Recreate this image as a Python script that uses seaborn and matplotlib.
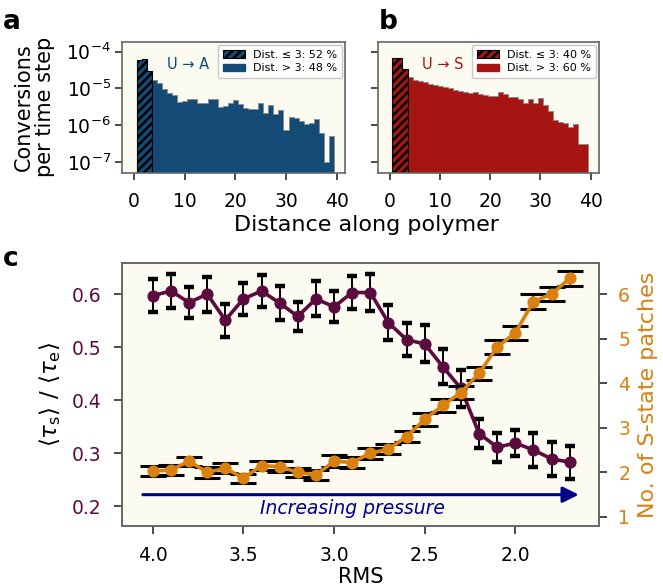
import numpy as np
import pandas as pd
import matplotlib
matplotlib.use("Agg")
import matplotlib.pyplot as plt
import seaborn as sns
from matplotlib.patches import Patch

# ── Panel a/b: conversion rates per distance along polymer ───────────────────
distance = list(range(1, 40))
rate_ua = [6.0e-5, 6.5e-5, 2.9e-5, 1.66e-5, 1.41e-5, 9.8e-6, 7.6e-6, 6.6e-6, 4.3e-6, 4.5e-6,
           5.2e-6, 5.2e-6, 4.1e-6, 3.9e-6, 5.0e-6, 5.0e-6, 3.1e-6, 3.3e-6, 4.1e-6, 4.8e-6,
           3.7e-6, 3.0e-6, 2.8e-6, 2.8e-6, 3.9e-6, 2.2e-6, 3.5e-6, 2.0e-6, 2.6e-6, 7.6e-7,
           1.7e-6, 1.6e-6, 1.3e-6, 1.07e-6, 1.17e-6, 1.45e-6, 6.0e-7, 1.0e-7, 5.2e-7]
rate_us = [6.8e-5, 6.8e-5, 3.4e-5, 2.0e-5, 1.66e-5, 1.62e-5, 1.51e-5, 1.35e-5, 1.26e-5, 1.17e-5,
           1.10e-5, 1.0e-5, 9.3e-6, 8.7e-6, 8.1e-6, 7.6e-6, 7.8e-6, 7.2e-6, 6.5e-6, 6.2e-6,
           6.2e-6, 7.8e-6, 7.1e-6, 5.9e-6, 5.9e-6, 5.0e-6, 4.1e-6, 5.0e-6, 3.9e-6, 5.4e-6,
           3.5e-6, 2.5e-6, 1.38e-6, 1.23e-6, 1.12e-6, 8.7e-7, 1.07e-6, 3.1e-7, 3.1e-7]
share_ua = ["52", "48"]
share_us = ["40", "60"]

# ── Panel c: lifetime ratio and patch count vs RMS ───────────────────────────
rms = [4.0, 3.9, 3.8, 3.7, 3.6, 3.5, 3.4, 3.3, 3.2, 3.1, 3.0, 2.9,
       2.8, 2.7, 2.6, 2.5, 2.4, 2.3, 2.2, 2.1, 2.0, 1.9, 1.8, 1.7]
tau_ratio = [0.597, 0.606, 0.584, 0.600, 0.551, 0.591, 0.606, 0.583, 0.558, 0.591, 0.576, 0.603,
             0.603, 0.546, 0.514, 0.506, 0.463, 0.422, 0.337, 0.311, 0.319, 0.306, 0.289, 0.283]
tau_err = [0.031, 0.032, 0.030, 0.033, 0.031, 0.030, 0.030, 0.032, 0.028, 0.033, 0.029, 0.032,
           0.035, 0.033, 0.031, 0.035, 0.033, 0.035, 0.028, 0.027, 0.025, 0.032, 0.032, 0.031]
n_patches = [2.03, 2.05, 2.25, 2.00, 2.09, 1.87, 2.15, 2.13, 2.00, 1.94, 2.25, 2.22,
             2.43, 2.52, 2.80, 3.19, 3.50, 3.79, 4.22, 4.81, 5.13, 5.83, 6.00, 6.35]
patches_err = [0.11, 0.12, 0.10, 0.12, 0.11, 0.10, 0.10, 0.13, 0.10, 0.11, 0.13, 0.12,
               0.12, 0.12, 0.13, 0.14, 0.14, 0.15, 0.14, 0.16, 0.15, 0.17, 0.16, 0.17]

# ── Style ─────────────────────────────────────────────────────────────────────
BLUE   = "#134a76"
RED    = "#a61512"
PURPLE = "#5c0b3e"
ORANGE = "#d9800f"
NAVY   = "#00008b"
BG     = "#fcfbf2"

sns.set_theme(style="ticks")
plt.rcParams.update({
    "font.family": ["DejaVu Sans"],
    "text.color": "black",
    "axes.labelcolor": "black",
    "xtick.color": "#333333",
    "ytick.color": "#333333",
    "xtick.labelcolor": "black",
    "ytick.labelcolor": "black",
    "axes.facecolor": BG,
    "axes.edgecolor": "#666666",
    "axes.linewidth": 1.2,
    "xtick.labelsize": 13.5,
    "ytick.labelsize": 13.5,
    "xtick.major.size": 5,
    "ytick.major.size": 5,
    "hatch.linewidth": 1.8,
    "mathtext.fontset": "dejavusans",
})

fig = plt.figure(figsize=(6.63, 5.88), dpi=100)
ax_a = fig.add_axes([0.184, 0.706, 0.336, 0.223])
ax_b = fig.add_axes([0.570, 0.706, 0.333, 0.223])
ax_c = fig.add_axes([0.184, 0.105, 0.719, 0.448])

edges = [d - 0.5 for d in distance] + [distance[-1] + 0.5]


def hist_panel(ax, rates, color, label, shares):
    df = pd.DataFrame({"dist": distance, "rate": rates})
    near = df[df["dist"] <= 3]
    far = df[df["dist"] > 3]
    sns.histplot(data=far, x="dist", weights="rate", bins=edges, element="step",
                 fill=True, color=color, alpha=1, edgecolor="#8a8a8a",
                 linewidth=0.6, ax=ax)
    sns.histplot(data=near, x="dist", weights="rate", bins=edges, element="step",
                 fill=True, color=color, alpha=1, edgecolor="black",
                 linewidth=0.8, hatch="////", ax=ax)
    ax.set_yscale("log")
    ax.set_ylim(10 ** -7.3, 10 ** -3.73)
    ax.set_xlim(-2.4, 41.6)
    ax.set_xticks([0, 10, 20, 30, 40])
    ax.set_yticks([1e-7, 1e-6, 1e-5, 1e-4])
    ax.minorticks_off()
    ax.tick_params(axis="x", pad=9)
    ax.tick_params(axis="y", pad=3)
    ax.set_xlabel("")
    ax.set_ylabel("")
    ax.text(0.20, 0.83, label, transform=ax.transAxes, color=color, fontsize=10.5,
            ha="left", va="center")
    handles = [Patch(facecolor=color, edgecolor="black", hatch="////", linewidth=0.8),
               Patch(facecolor=color, edgecolor=color)]
    labels = [f"Dist. \u2264 3: {shares[0]} %", f"Dist. > 3: {shares[1]} %"]
    leg = ax.legend(handles, labels, loc="upper right", fontsize=8, frameon=True,
                    borderaxespad=0.25, handlelength=2.0, handletextpad=0.7,
                    labelspacing=0.35, borderpad=0.45, fancybox=True)
    leg.get_frame().set_edgecolor("#bbbbbb")
    leg.get_frame().set_facecolor("white")


hist_panel(ax_a, rate_ua, BLUE, "U \u2192 A", share_ua)
hist_panel(ax_b, rate_us, RED, "U \u2192 S", share_us)
ax_b.set_yticklabels([])
ax_a.set_ylabel("Conversions\nper time step", fontsize=15, labelpad=8, linespacing=1.05)
fig.text(0.553, 0.617, "Distance along polymer", fontsize=16, ha="center", va="center")

# ── Panel c ───────────────────────────────────────────────────────────────────
ax_c.errorbar(rms, tau_ratio, yerr=tau_err, fmt="none", ecolor="black",
              elinewidth=1.4, capsize=3.8, capthick=3.2, zorder=2)
sns.lineplot(x=rms, y=tau_ratio, color=PURPLE, marker="o", markersize=8,
             markeredgecolor=PURPLE, linewidth=2.6, ax=ax_c, zorder=3)
ax_c.set_xlim(4.17, 1.54)
ax_c.set_ylim(0.162, 0.659)
ax_c.set_xticks([4.0, 3.5, 3.0, 2.5, 2.0])
ax_c.set_yticks([0.2, 0.3, 0.4, 0.5, 0.6])
ax_c.tick_params(axis="y", labelcolor=PURPLE, size=6, pad=9)
ax_c.tick_params(axis="x", size=6, pad=8)
ax_c.set_xlabel("RMS", fontsize=15, labelpad=2)
ax_c.set_ylabel(r"$\langle\tau_\mathrm{s}\rangle\ /\ \langle\tau_\mathrm{e}\rangle$",
                fontsize=16.5, labelpad=6)

ax_c.annotate("", xy=(1.65, 0.2216), xytext=(4.055, 0.2216),
              arrowprops=dict(arrowstyle="-|>", color=NAVY, lw=2.2,
                              mutation_scale=24, shrinkA=0, shrinkB=0))
ax_c.text(2.90, 0.196, "Increasing pressure", color=NAVY, fontsize=13.5,
          style="italic", ha="center", va="center")

ax_r = ax_c.twinx()
ax_r.errorbar(rms, n_patches, yerr=patches_err, fmt="none", ecolor="black",
              elinewidth=1.2, capsize=9.6, capthick=2.2, zorder=2)
sns.lineplot(x=rms, y=n_patches, color=ORANGE, marker="o", markersize=8,
             markeredgecolor=ORANGE, linewidth=2.6, ax=ax_r, zorder=3)
ax_r.set_ylim(0.79, 6.70)
ax_r.set_yticks([1, 2, 3, 4, 5, 6])
ax_r.tick_params(axis="y", labelcolor=ORANGE, size=6, pad=8)
ax_r.set_ylabel("No. of S-state patches", color=ORANGE, fontsize=16, labelpad=6)
ax_r.set_xlim(4.17, 1.54)

# ── Panel letters ─────────────────────────────────────────────────────────────
fig.text(0.004, 0.985, "a", fontsize=19, fontweight="bold", va="top")
fig.text(0.571, 0.985, "b", fontsize=19, fontweight="bold", va="top")
fig.text(0.004, 0.582, "c", fontsize=19, fontweight="bold", va="top")

plt.savefig("out.png", dpi=100)
plt.close()
